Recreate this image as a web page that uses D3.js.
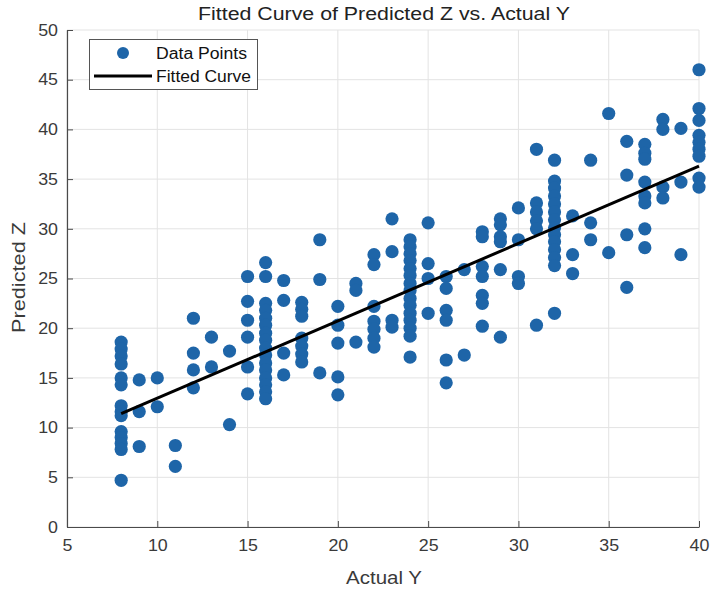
<!DOCTYPE html>
<html>
<head>
<meta charset="utf-8">
<script src="https://cdn.jsdelivr.net/npm/d3@7"></script>
<style>
  html, body { margin: 0; padding: 0; background: #fff; }
  svg { display: block; font-family: "Liberation Sans", Arial, Helvetica, sans-serif; }
</style>
</head>
<body>
<svg id="chart" width="711" height="594"></svg>
<script>
// ---- data ----
const actualY = [8, 9, 10, 11, 12, 13, 14, 15, 16, 17, 18, 19, 20, 21, 22, 23, 24,
                 25, 26, 27, 28, 29, 30, 31, 32, 33, 34, 35, 36, 37, 38, 39, 40];
const predictedZ = [
  [18.6, 17.9, 17.2, 16.4, 15.0, 14.3, 12.2, 11.6, 11.2, 9.6, 9.0, 8.4, 7.8, 4.7], // 8
  [14.8, 11.6, 8.1],                                   // 9
  [15.0, 12.1],                                        // 10
  [8.2, 6.1],                                          // 11
  [21.0, 17.5, 15.8, 14.0],                            // 12
  [19.1, 16.1],                                        // 13
  [17.7, 10.3],                                        // 14
  [25.2, 22.7, 20.8, 19.1, 16.1, 13.4],                // 15
  [26.6, 25.2, 22.5, 21.8, 21.0, 20.3, 19.5, 18.8, 18.0, 17.3, 16.5, 15.8, 15.0, 14.3, 13.6, 12.9], // 16
  [24.8, 22.8, 17.5, 15.3],                            // 17
  [22.6, 21.9, 21.2, 19.0, 18.2, 17.4, 16.6],          // 18
  [28.9, 24.9, 15.5],                                  // 19
  [22.2, 20.3, 18.5, 15.1, 13.3],                      // 20
  [24.5, 23.8, 18.6],                                  // 21
  [27.4, 26.4, 22.2, 20.7, 19.9, 19.0, 18.1],          // 22
  [31.0, 27.7, 20.8, 20.1],                            // 23
  [28.9, 28.2, 27.5, 26.8, 26.0, 25.3, 24.5, 23.8, 23.0, 22.3, 21.5, 20.8, 20.0, 19.2, 17.1], // 24
  [30.6, 26.5, 25.0, 21.5],                            // 25
  [25.2, 24.0, 21.8, 20.8, 16.8, 14.5],                // 26
  [25.9, 17.3],                                        // 27
  [29.7, 29.2, 26.2, 25.2, 23.3, 22.5, 20.2],          // 28
  [31.0, 30.4, 29.2, 28.7, 25.9, 19.1],                // 29
  [32.1, 28.9, 25.2, 24.5],                            // 30
  [38.0, 32.6, 31.7, 30.8, 30.0, 20.3],                // 31
  [36.9, 34.8, 34.1, 33.3, 32.5, 31.7, 30.9, 30.1, 29.4, 28.7, 27.9, 27.1, 26.3, 21.5], // 32
  [31.3, 27.4, 25.5],                                  // 33
  [36.9, 30.6, 28.9],                                  // 34
  [41.6, 27.6],                                        // 35
  [38.8, 35.4, 29.4, 24.1],                            // 36
  [38.5, 37.6, 37.0, 34.7, 33.3, 32.6, 30.0, 28.1],    // 37
  [41.0, 40.0, 34.2, 33.1],                            // 38
  [40.1, 34.7, 27.4],                                  // 39
  [46.0, 42.1, 40.9, 39.4, 38.7, 38.0, 37.3, 35.1, 34.2] // 40
];
const fitX = [8, 40];
const fitY = [11.4, 36.3];
const xTicks = [5, 10, 15, 20, 25, 30, 35, 40];
const yTicks = [0, 5, 10, 15, 20, 25, 30, 35, 40, 45, 50];
const titleText = "Fitted Curve of Predicted Z vs. Actual Y";
const xLabel = "Actual Y";
const yLabel = "Predicted Z";
const legendLabels = ["Data Points", "Fitted Curve"];

// ---- layout ----
const svg = d3.select("#chart");
const L = 67, R = 699, T = 30, B = 527;
const x = d3.scaleLinear().domain([5, 40]).range([L, R]);
const y = d3.scaleLinear().domain([0, 50]).range([B, T]);
const axisColor = "#4a4a4a";
const textColor = "#3a3a3a";
const dotColor = "#1e65a8";

function stretchTo(sel, w) {
  sel.attr("textLength", w).attr("lengthAdjust", "spacingAndGlyphs");
}

// grid
const grid = svg.append("g");
grid.selectAll("line.v").data(xTicks).join("line")
  .attr("x1", d => x(d)).attr("x2", d => x(d)).attr("y1", T).attr("y2", B)
  .attr("stroke", "#e3e3e3").attr("stroke-width", 1);
grid.selectAll("line.h").data(yTicks).join("line")
  .attr("y1", d => y(d)).attr("y2", d => y(d)).attr("x1", L).attr("x2", R)
  .attr("stroke", "#e3e3e3").attr("stroke-width", 1);

// axes
const xAxis = svg.append("g").attr("transform", `translate(0,${B})`)
  .call(d3.axisBottom(x).tickValues(xTicks).tickFormat(d3.format("d"))
        .tickSizeInner(-6).tickSizeOuter(0).tickPadding(12));
const yAxis = svg.append("g").attr("transform", `translate(${L},0)`)
  .call(d3.axisLeft(y).tickValues(yTicks).tickFormat(d3.format("d"))
        .tickSizeInner(-6).tickSizeOuter(0).tickPadding(9));
[xAxis, yAxis].forEach(g => {
  g.select(".domain").attr("stroke", axisColor).attr("stroke-width", 1.2);
  g.selectAll(".tick line").attr("stroke", axisColor);
  g.selectAll(".tick text").attr("fill", textColor)
    .style("font-size", "16.5px").style("font-family", "Liberation Sans, Arial, sans-serif")
    .each(function () {
      const w = this.getComputedTextLength();
      d3.select(this).attr("textLength", w * 1.08).attr("lengthAdjust", "spacingAndGlyphs");
    });
});

// points
const pts = [];
actualY.forEach((ax, i) => predictedZ[i].forEach(v => pts.push([ax, v])));
svg.append("g").selectAll("circle").data(pts).join("circle")
  .attr("cx", d => x(d[0])).attr("cy", d => y(d[1])).attr("r", 6.6)
  .attr("fill", dotColor);

// fitted line
svg.append("line")
  .attr("x1", x(fitX[0])).attr("y1", y(fitY[0]))
  .attr("x2", x(fitX[1])).attr("y2", y(fitY[1]))
  .attr("stroke", "#000").attr("stroke-width", 3);

// title & labels
svg.append("text").attr("x", 384).attr("y", 20).attr("text-anchor", "middle")
  .attr("fill", "#222").style("font-size", "17.5px").text(titleText)
  .call(stretchTo, 372);
svg.append("text").attr("x", 384).attr("y", 584).attr("text-anchor", "middle")
  .attr("fill", textColor).style("font-size", "17.5px").text(xLabel)
  .call(stretchTo, 76);
svg.append("text").attr("transform", "translate(25,277.5) rotate(-90)")
  .attr("text-anchor", "middle").attr("fill", textColor)
  .style("font-size", "17.5px").text(yLabel)
  .call(stretchTo, 111);

// legend
const lg = svg.append("g");
lg.append("rect").attr("x", 89.5).attr("y", 39.5).attr("width", 168).attr("height", 50)
  .attr("fill", "#fff").attr("stroke", "#555").attr("stroke-width", 1);
lg.append("circle").attr("cx", 123).attr("cy", 53).attr("r", 6).attr("fill", dotColor);
lg.append("line").attr("x1", 94).attr("x2", 152).attr("y1", 76).attr("y2", 76)
  .attr("stroke", "#000").attr("stroke-width", 3);
const legendWidths = [91, 95];
lg.selectAll("text.lbl").data(legendLabels).join("text")
  .attr("x", 156).attr("y", (d, i) => 59 + i * 23)
  .attr("fill", "#111").style("font-size", "16px").text(d => d)
  .each(function (d, i) { d3.select(this).call(stretchTo, legendWidths[i]); });
</script>
</body>
</html>
